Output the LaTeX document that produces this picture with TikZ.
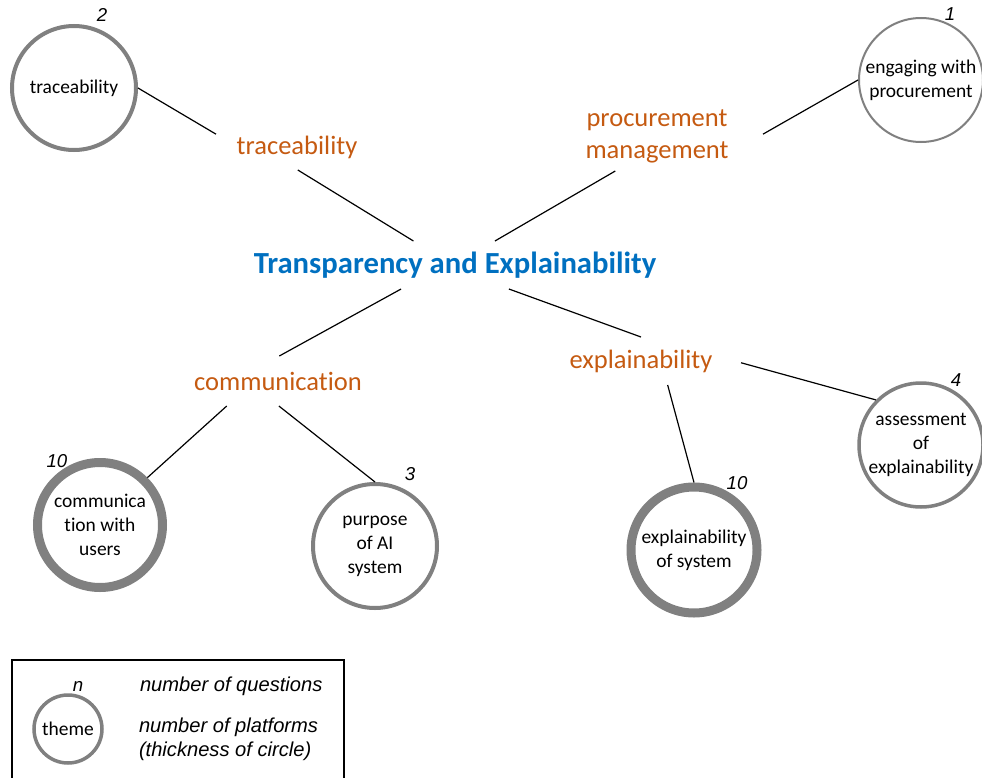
\documentclass[tikz,border=0pt]{standalone}
\usepackage{fontspec}
\setmainfont{Carlito}[Ligatures=NoCommon]
\newfontfamily\arialfont{Liberation Sans}
\newlength{\du}
\setlength{\du}{0.75\unitlength}
\definecolor{diagray}{rgb}{0.501961, 0.501961, 0.501961}
\definecolor{diaorange}{rgb}{0.772549, 0.352941, 0.066667}
\definecolor{diablue}{rgb}{0.000000, 0.439216, 0.752941}
\tikzset{
  theme/.style={circle,draw=diagray,fill=white,align=center,inner sep=0pt,minimum size=124\du,font=\fontsize{14.6}{18}\selectfont},
  topic/.style={rectangle,inner sep=0pt,outer sep=0pt,align=center,text=diaorange,font=\fontsize{19.9}{24}\selectfont},
  hub/.style={rectangle,inner sep=0pt,outer sep=0pt,text=diablue,font=\bfseries\fontsize{23}{28}\selectfont},
  qcount/.style={inner sep=0pt,outer sep=0pt,font=\arialfont\itshape\fontsize{14}{16}\selectfont},
  legendtext/.style={anchor=west,inner sep=0pt,outer sep=0pt,align=left,font=\arialfont\itshape\fontsize{15.1}{18}\selectfont},
}
\begin{document}
\begin{tikzpicture}[even odd rule]
\pgftransformxscale{1.000000}
\pgftransformyscale{-1.000000}
\useasboundingbox (0\du,0\du) rectangle (982\du,778\du);
\definecolor{dialinecolor}{rgb}{0.000000, 0.000000, 0.000000}
\pgfsetstrokecolor{dialinecolor}
\pgfsetstrokeopacity{1.000000}
\pgfsetlinewidth{1.200000\du}
\pgfsetdash{}{0pt}
\pgfsetbuttcap
% setfont left to latex
\node[hub,minimum width=420\du,minimum height=48\du] (te) at (455.000000\du,265.000000\du){Transparency and Explainability};
% setfont left to latex
\node[topic,minimum width=162\du,minimum height=46\du] (tl) at (297.000000\du,147.000000\du){traceability};
\node[topic,minimum width=212\du,minimum height=70\du] (pm) at (657.000000\du,136.000000\du){procurement\\management};
\node[topic,minimum width=180\du,minimum height=50\du] (cl) at (278.000000\du,381.000000\du){communication};
\node[topic,minimum width=200\du,minimum height=48\du] (el) at (641.000000\du,361.000000\du){explainability};
% setfont left to latex
\node[theme,line width=4.000000\du] (tc) at (74.000000\du,88.000000\du){traceability};
\node[theme,line width=2.000000\du] (ep) at (921.000000\du,80.000000\du){engaging with\\procurement};
\node[theme,line width=9.000000\du,minimum size=125\du] (cu) at (100.000000\du,525.000000\du){communica\\tion with\\users};
\node[theme,line width=4.000000\du] (pa) at (375.000000\du,546.000000\du){purpose\\of AI\\system};
\node[theme,line width=9.000000\du,minimum size=126\du] (es) at (694.000000\du,550.000000\du){explainability\\of system};
\node[theme,line width=3.500000\du] (ae) at (921.000000\du,445.000000\du){assessment\\of\\explainability};
% setfont left to latex
\node[qcount] (q2) at (102.000000\du,15.000000\du){2};
\node[qcount] (q1) at (950.000000\du,14.000000\du){1};
\node[qcount] (q10a) at (57.000000\du,461.000000\du){10};
\node[qcount] (q3) at (410.000000\du,474.000000\du){3};
\node[qcount] (q10b) at (737.000000\du,483.000000\du){10};
\node[qcount] (q4) at (956.000000\du,380.000000\du){4};
{
\definecolor{dialinecolor}{rgb}{0.000000, 0.000000, 0.000000}
\pgfsetstrokecolor{dialinecolor}
\draw (tc.east)--(tl.171.6);
\draw (tl.272.5)--(te.150.3);
\draw (ep.west)--(pm.1.1);
\draw (pm.220.5)--(te.31.5);
\draw (te.204.4)--(cl.87.7);
\draw (cl.206.7)--(cu.45);
\draw (cl.272.3)--(pa.north);
\draw (te.336.3)--(el.90);
\draw (el.318.4)--(es.north);
\draw (el.359.4)--(ae.north west);
}
% legend
\draw (12.000000\du,790.000000\du)--(12.000000\du,660.000000\du)--(344.000000\du,660.000000\du)--(344.000000\du,790.000000\du);
\node[theme,line width=3.500000\du,minimum size=68\du] (lg) at (68.000000\du,729.000000\du){theme};
\node[qcount] (ln) at (78.000000\du,686.000000\du){n};
\node[legendtext] (lq) at (140.000000\du,686.000000\du){number of questions};
\node[legendtext] (lp) at (139.000000\du,739.000000\du){number of platforms\\(thickness of circle)};
\end{tikzpicture}
\end{document}
